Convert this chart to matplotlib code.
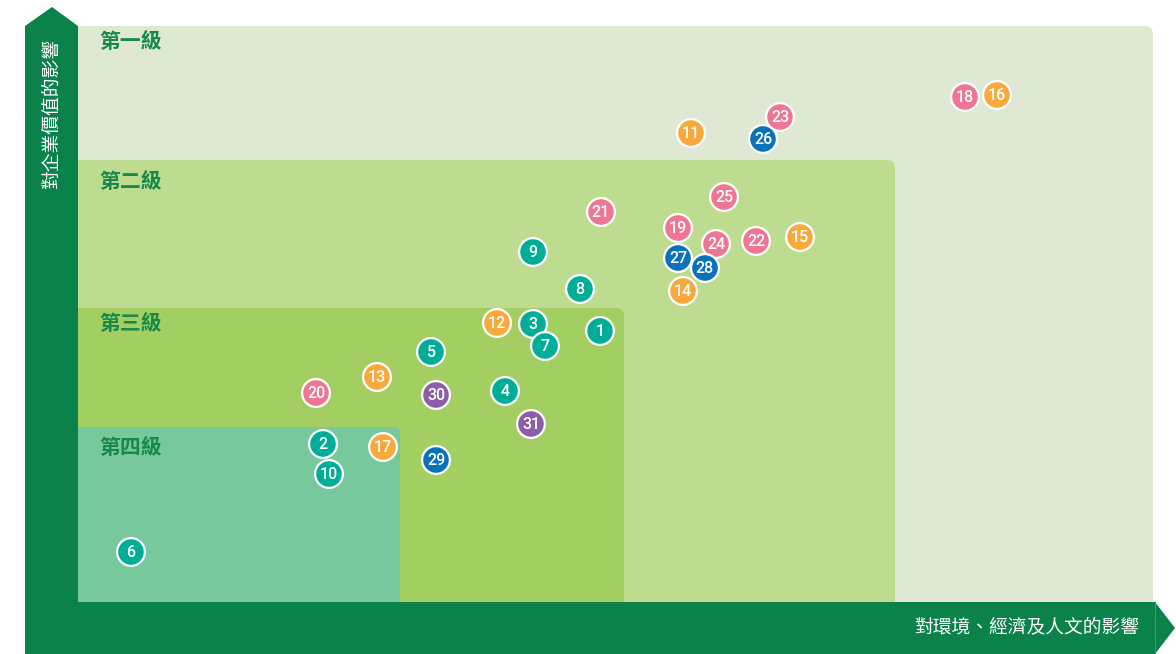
import matplotlib
matplotlib.use("Agg")
import matplotlib.pyplot as plt
from matplotlib.patches import FancyBboxPatch, Polygon

plt.rcParams['font.family'] = ['Noto Sans CJK TC', 'DejaVu Sans']

# ---- data (impact scores, origin at the corner of the two axes) ----
ids = list(range(1, 32))
x_impact = [522, 245, 455, 427, 353, 53, 467, 502, 455, 251,
            613, 419, 299, 605, 722, 919, 305,
            887, 600, 238, 523, 678, 702, 638, 646,
            685, 600, 627, 358,
            358, 453]
y_value = [271, 158, 278, 211, 250, 50, 256, 313, 350, 128,
           469, 279, 225, 311, 365, 507, 155,
           505, 374, 209, 390, 361, 485, 358, 405,
           463, 344, 334, 142,
           207, 178]
groups = ['teal'] * 10 + ['orange'] * 7 + ['pink'] * 8 + ['blue'] * 4 + ['purple'] * 2
group_colors = {'teal': '#00ae98', 'orange': '#f9a83c', 'pink': '#ef7592',
                'blue': '#0a71bb', 'purple': '#8c5ea8'}

tiers = ['第一級', '第二級', '第三級', '第四級']
tier_x = [1075, 817, 546, 322]
tier_y = [576, 442, 294, 175]
tier_label_y = [560, 421, 279, 155]
tier_colors = ['#dfe8d2', '#bedc8f', '#a3cf62', '#77c89c']

x_label = '對環境、經濟及人文的影響'
y_label = '對企業價值的影響'

dark_green = '#0b8249'
label_green = '#178a4a'

fig = plt.figure(figsize=(11.76, 6.54), dpi=100)
ax = fig.add_axes([0, 0, 1, 1])
ax.set_xlim(-78, 1098)
ax.set_ylim(-52, 602)
ax.axis('off')

# tier regions
for name, tx, ty, ly, col in zip(tiers, tier_x, tier_y, tier_label_y, tier_colors):
    box = FancyBboxPatch((-20, -20), tx + 20, ty + 20,
                         boxstyle='round,pad=0,rounding_size=8',
                         facecolor=col, edgecolor='none', zorder=1)
    ax.add_patch(box)
    ax.text(21, ly, name, color=label_green, fontsize=15,
            fontweight='bold', va='center', ha='left', zorder=2)

# axis arrows
vert = Polygon([(-53, -52), (-53, 576), (-26, 595), (0, 576), (0, -52)],
               closed=True, facecolor=dark_green, edgecolor='none', zorder=3)
ax.add_patch(vert)
horiz = Polygon([(-53, 0), (1077, 0), (1097, -26), (1077, -52), (-53, -52)],
                closed=True, facecolor=dark_green, edgecolor='none', zorder=3)
ax.add_patch(horiz)
ax.plot([1077, 1077], [0, -52], color='#3e9a6c', lw=0.8, zorder=3.5)

ax.text(1061, -25, x_label, color='white', fontsize=13.5, ha='right',
        va='center', zorder=4)
ax.text(-27, 488, y_label, color='white', fontsize=13.5, rotation=90,
        ha='center', va='center', zorder=4)

# points
cols = [group_colors[g] for g in groups]
ax.scatter(x_impact, y_value, s=400, c=cols, edgecolors='white',
           linewidths=1.6, zorder=5)
for i, xv, yv in zip(ids, x_impact, y_value):
    ax.text(xv, yv - 0.5, str(i), color='white', fontsize=11.5, ha='center',
            va='center', zorder=6, family='Roboto', fontweight='medium')

fig.savefig('out.png', dpi=100)
